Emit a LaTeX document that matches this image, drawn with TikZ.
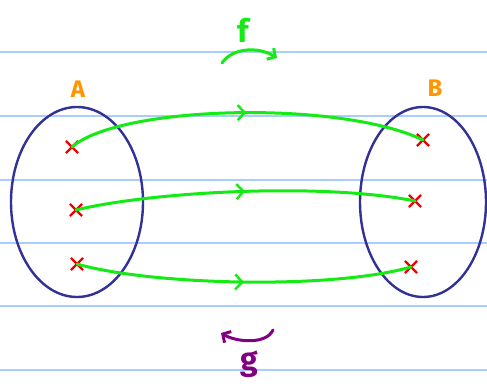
\documentclass[tikz,border=0pt]{standalone}
\usepackage{fontspec}
\setmainfont{Fira Sans}
\usetikzlibrary{shapes.misc,decorations.markings,arrows.meta}
\definecolor{ruled}{RGB}{170,205,255}
\definecolor{setblue}{RGB}{50,50,150}
\definecolor{fgreen}{RGB}{20,235,20}
\definecolor{gpurple}{RGB}{130,0,130}
\definecolor{lblorange}{RGB}{255,150,0}
\definecolor{xred}{RGB}{240,0,0}
\tikzset{
  ruleline/.style={ruled, line width=1.8pt},
  setline/.style={setblue, line width=2.4pt},
  xmark/.style={cross out, draw=xred, line width=2.2pt, minimum size=10pt, inner sep=0pt},
  fmap/.style={fgreen, line width=3pt, line cap=round,
    postaction={decorate, decoration={markings, mark=at position 0.5 with {\arrow[fgreen, line width=2.4pt]{Straight Barb[length=7pt,width=15pt]}}}}},
  lbl/.style={font=\fontsize{24}{24}\selectfont\bfseries},
  biglbl/.style={font=\fontsize{32}{32}\selectfont\bfseries},
}
\begin{document}
\begin{tikzpicture}[x=1pt,y=-1pt]
\useasboundingbox (0,0) rectangle (487,390);
\fill[white] (0,0) rectangle (487,390);
% ruled lines
\foreach \yy in {52,116,180,243,306,370} \draw[ruleline] (0,\yy) -- (487,\yy);
% sets
\draw[setline] (77,202) ellipse [x radius=66, y radius=95];
\draw[setline] (423,202) ellipse [x radius=63, y radius=95];
\node[lbl, text=lblorange] (A) at (78,89) {A};
\node[lbl, text=lblorange] (B) at (435,88) {B};
% points
\node[xmark] (a1) at (72,147) {};
\node[xmark] (a2) at (76,210) {};
\node[xmark] (a3) at (77,264) {};
\node[xmark] (b1) at (423,140) {};
\node[xmark] (b2) at (415,201) {};
\node[xmark] (b3) at (411,267) {};
% maps
\draw[fmap] (a1.center) .. controls (120,105) and (340,100) .. (b1.center);
\draw[fmap] (a2.center) .. controls (150,192) and (320,182) .. (b2.center);
\draw[fmap] (a3.center) .. controls (150,285) and (330,290) .. (b3.center);
% f and g
\node[biglbl, text=fgreen] (f) at (243,30) {f};
\node[biglbl, text=gpurple] (g) at (249,364) {g};
\coordinate (fs) at (222,63);
\coordinate (fe) at (277,58);
\draw[fgreen, line width=3pt, line cap=round, -{Straight Barb[length=6pt,width=13pt]}] (fs) .. controls (232,48) and (258,46) .. (fe);
\coordinate (gs) at (273,330);
\coordinate (ge) at (221,333);
\draw[gpurple, line width=3pt, line cap=round, -{Straight Barb[length=6pt,width=13pt]}] (gs) .. controls (266,345) and (236,342) .. (ge);
\end{tikzpicture}
\end{document}
